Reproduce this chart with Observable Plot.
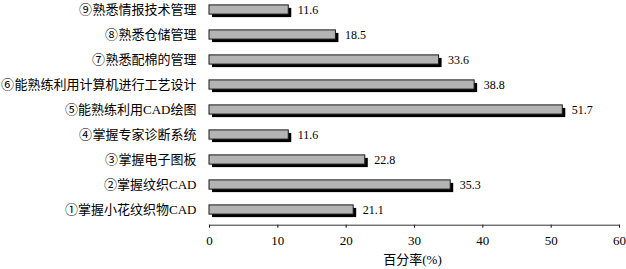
<!DOCTYPE html>
<html>
<head>
<meta charset="utf-8">
<script src="https://cdn.jsdelivr.net/npm/d3@7"></script>
<script src="https://cdn.jsdelivr.net/npm/@observablehq/plot@0.6"></script>
<style>
  @font-face {
    font-family: "CircledNum";
    src: local("Noto Sans CJK SC Regular"), local("NotoSansCJKsc-Regular"), local("Noto Sans CJK SC"), local("Noto Sans CJK JP Regular"), local("NotoSansCJKjp-Regular");
    unicode-range: U+2460-2473;
  }
  html, body { margin: 0; padding: 0; background: #fff; }
  #chart svg { display: block; }
</style>
</head>
<body>
<div id="chart"></div>
<script>
const categories = ["①掌握小花纹织物CAD", "②掌握纹织CAD", "③掌握电子图板", "④掌握专家诊断系统", "⑤能熟练利用CAD绘图", "⑥能熟练利用计算机进行工艺设计", "⑦熟悉配棉的管理", "⑧熟悉仓储管理", "⑨熟悉情报技术管理"];
const values = [21.1, 35.3, 22.8, 11.6, 51.7, 38.8, 33.6, 18.5, 11.6];
const xTicks = [0, 10, 20, 30, 40, 50, 60];
const xTitle = "百分率(%)";

const data = categories.map((c, i) => ({category: c, value: values[i]}));
const inset = 7.9;
const font = "CircledNum, 'Liberation Serif', 'Noto Sans CJK SC', serif";

const chart = Plot.plot({
  width: 626,
  height: 269,
  marginLeft: 209,
  marginRight: 7,
  marginTop: 0,
  marginBottom: 44.3,
  style: {fontFamily: font, background: "#fff", color: "#000", overflow: "visible"},
  x: {domain: [0, 60]},
  y: {domain: categories.slice().reverse(), range: [-6.4, 225.2], padding: 0},
  marks: [
    Plot.barX(data, {x: "value", y: "category", fill: "#000", dx: 3, dy: 3, insetTop: inset, insetBottom: inset}),
    Plot.barX(data, {x: "value", y: "category", fill: "#b4b4b4", stroke: "#1a1a1a", strokeWidth: 1, insetTop: inset, insetBottom: inset}),
    Plot.text(data, {x: "value", y: "category", text: d => d.value.toFixed(1), dx: 9, textAnchor: "start", fontSize: 12, fill: "#000"}),
    Plot.axisY({tickSize: 0, tickPadding: 13, fontSize: 13, label: null}),
    Plot.axisX({ticks: xTicks, tickSize: 3, tickPadding: 8, fontSize: 13, label: null, tickFormat: d => String(d)}),
    Plot.frame({anchor: "bottom", stroke: "#333"}),
    Plot.text([xTitle], {frameAnchor: "bottom", dy: 34.5, dx: -2, lineAnchor: "middle", fontSize: 13, fill: "#000"})
  ]
});
document.getElementById("chart").appendChild(chart);
</script>
</body>
</html>
